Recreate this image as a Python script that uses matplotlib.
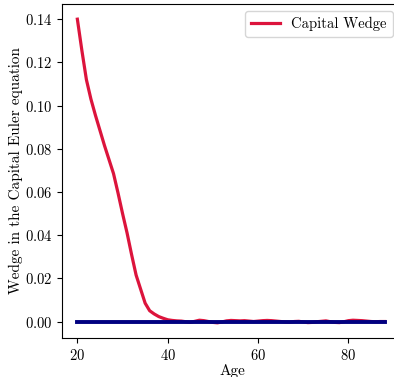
import numpy as np
import matplotlib
matplotlib.use('Agg')
import matplotlib.pyplot as plt
from matplotlib import rcParams

# wedge in the capital Euler equation by age
ages = list(range(20, 89))
wedge = [0.1400, 0.1255, 0.1120, 0.1030, 0.0955, 0.0885, 0.0815, 0.0750, 0.0685, 0.0595,
         0.0500, 0.0410, 0.0310, 0.0215, 0.0150, 0.0085, 0.0050, 0.0035, 0.0023, 0.0015,
         0.0008, 0.0005, 0.0003, 0.0002, -0.0001, -0.0004, 0.0001, 0.0006, 0.0004, 0.0000,
         -0.0004, -0.0006, -0.0002, 0.0003, 0.0005, 0.0004, 0.0003, 0.0004, 0.0002, 0.0000,
         0.0002, 0.0004, 0.0005, 0.0004, 0.0002, 0.0000, -0.0002, -0.0003, 0.0000, 0.0001,
         -0.0002, -0.0005, -0.0004, -0.0001, 0.0001, 0.0003, -0.0001, -0.0004, -0.0005, -0.0001,
         0.0004, 0.0006, 0.0005, 0.0004, 0.0002, 0.0000, -0.0001, 0.0000, 0.0000]
zero_line = [0.0] * len(ages)

rcParams['font.family'] = 'cmr10'
rcParams['mathtext.fontset'] = 'cm'
rcParams['axes.formatter.use_mathtext'] = True
rcParams['font.size'] = 10.5

fig = plt.figure(figsize=(3.94, 3.77), dpi=100)
ax = fig.add_axes([62 / 394, 39 / 377, 338 / 394, 334 / 377])

ax.plot(ages, wedge, color='crimson', lw=2.3, label='Capital Wedge')
ax.plot(ages, zero_line, color='navy', lw=2.8)

ax.set_xlabel('Age', fontsize=11)
ax.set_ylabel('Wedge in the Capital Euler equation', fontsize=11)
ax.xaxis.set_label_coords(0.503, -0.078)
ax.yaxis.set_label_coords(-0.114, 0.5)
ax.set_xticks([20, 40, 60, 80])
ax.legend(loc='upper right', fontsize=10.5)

fig.savefig('out.png', dpi=100)
